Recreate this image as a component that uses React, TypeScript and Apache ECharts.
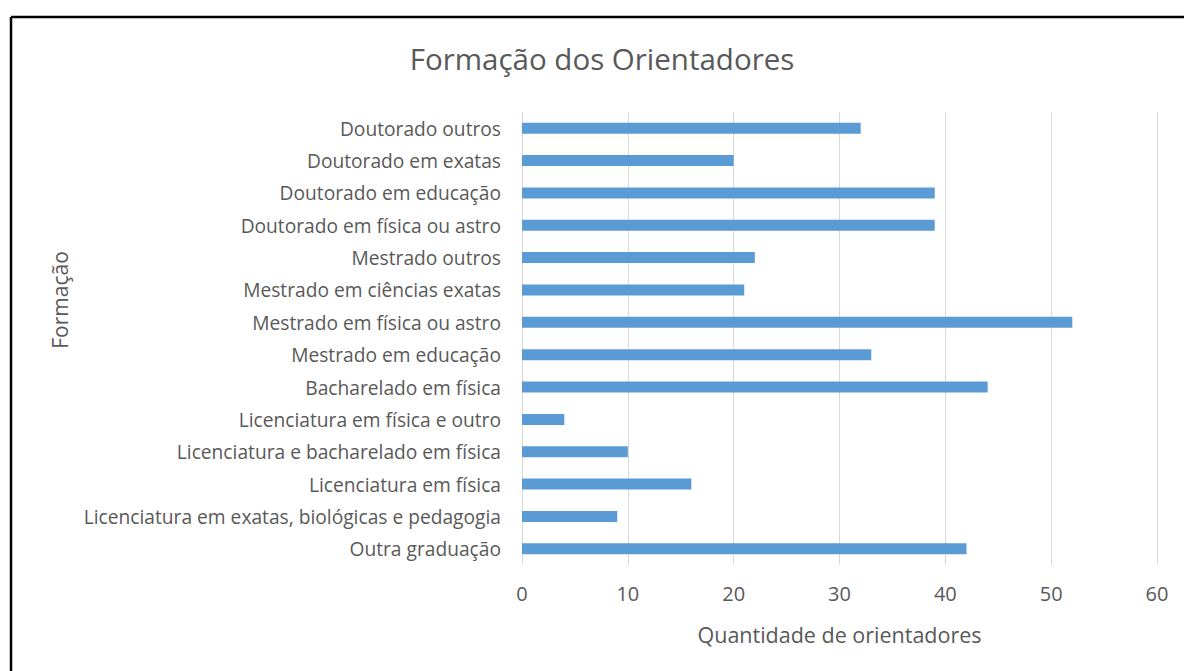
import React, { useEffect, useRef } from "react";
import * as echarts from "echarts";

const categories = [
  "Doutorado outros",
  "Doutorado em exatas",
  "Doutorado em educação",
  "Doutorado em física ou astro",
  "Mestrado outros",
  "Mestrado em ciências exatas",
  "Mestrado em física ou astro",
  "Mestrado em educação",
  "Bacharelado em física",
  "Licenciatura em física e outro",
  "Licenciatura e bacharelado em física",
  "Licenciatura em física",
  "Licenciatura em exatas, biológicas e pedagogia",
  "Outra graduação",
];
const values = [32, 20, 39, 39, 22, 21, 52, 33, 44, 4, 10, 16, 9, 42];

const title = "Formação dos Orientadores";
const xName = "Quantidade de orientadores";
const yName = "Formação";

const FONT = "'Open Sans', 'Noto Sans', sans-serif";
const TXT = "#595959";

export default function App() {
  const ref = useRef<HTMLDivElement>(null);
  useEffect(() => {
    const chart = echarts.init(ref.current!, null, { renderer: "svg" });
    chart.setOption({
      animation: false,
      backgroundColor: "#ffffff",
      textStyle: { fontFamily: FONT },
      title: {
        text: title,
        left: 597,
        textAlign: "center",
        top: 38,
        textStyle: { fontFamily: FONT, fontSize: 29.5, fontWeight: "normal", color: TXT },
      },
      graphic: [
        { type: "line", shape: { x1: 11, y1: 17, x2: 1184, y2: 17 }, style: { stroke: "#000", lineWidth: 2.5 } },
        { type: "line", shape: { x1: 11, y1: 17, x2: 11, y2: 671 }, style: { stroke: "#000", lineWidth: 2.5 } },
        {
          type: "text",
          x: 60,
          y: 300,
          rotation: Math.PI / 2,
          style: {
            text: yName,
            fontFamily: FONT,
            fontSize: 21,
            fill: TXT,
            align: "center",
            verticalAlign: "middle",
          },
        },
      ],
      grid: { left: 522, right: 27, top: 112, bottom: 106, containLabel: false },
      xAxis: {
        type: "value",
        min: 0,
        max: 60,
        interval: 10,
        name: xName,
        nameLocation: "middle",
        nameGap: 58,
        nameTextStyle: { fontFamily: FONT, fontSize: 21.5, color: TXT },
        axisLine: { show: false },
        axisTick: { show: false },
        axisLabel: { fontFamily: FONT, fontSize: 20, color: TXT, margin: 18 },
        splitLine: { show: true, lineStyle: { color: "#d9d9d9", width: 1 } },
      },
      yAxis: {
        type: "category",
        inverse: true,
        data: categories,
        axisLine: { show: false },
        axisTick: { show: false },
        axisLabel: { fontFamily: FONT, fontSize: 19.2, color: TXT, margin: 21 },
        splitLine: { show: false },
      },
      series: [
        {
          type: "bar",
          data: values,
          barWidth: 11,
          itemStyle: { color: "#5b9bd5" },
        },
      ],
    });
    return () => chart.dispose();
  }, []);
  return (
    <div
      ref={ref}
      style={{ position: "fixed", left: 0, top: 0, width: 1184, height: 671 }}
    />
  );
}
